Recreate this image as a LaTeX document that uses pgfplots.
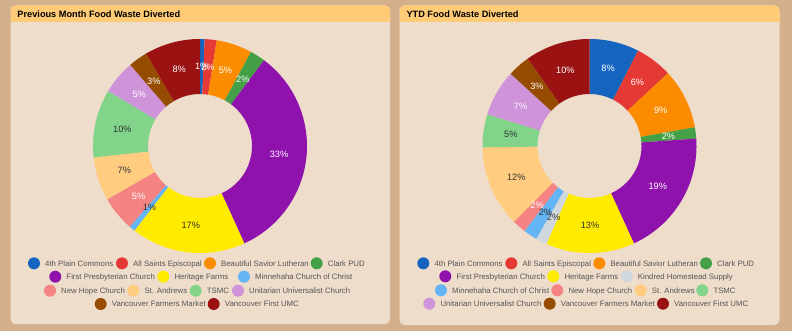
\documentclass[border=0pt]{standalone}
\usepackage{fontspec}
\setmainfont{Liberation Sans}
\usepackage{pgfplots}
\usepackage{pgfplotstable}
\pgfplotsset{compat=1.18}

\definecolor{outerbg}{HTML}{D3AF8C}
\definecolor{panelbg}{HTML}{EEDDCB}
\definecolor{hdr}{HTML}{FFCB77}
\definecolor{cA}{HTML}{1565C0}
\definecolor{cB}{HTML}{E53935}
\definecolor{cC}{HTML}{FB8C00}
\definecolor{cD}{HTML}{43A047}
\definecolor{cE}{HTML}{9012AD}
\definecolor{cF}{HTML}{FFEB00}
\definecolor{cG}{HTML}{D0D8DE}
\definecolor{cH}{HTML}{64B5F6}
\definecolor{cI}{HTML}{F48383}
\definecolor{cJ}{HTML}{FFCC80}
\definecolor{cK}{HTML}{81D48A}
\definecolor{cL}{HTML}{CE93D8}
\definecolor{cM}{HTML}{954B00}
\definecolor{cN}{HTML}{9A1212}
\definecolor{dark}{HTML}{333333}
\definecolor{legtext}{HTML}{555555}

% Previous month shares (%), clockwise from top
\pgfplotstableread{
value color tc
0.7  cA white
1.8  cB white
5.4  cC white
2.3  cD white
33.0 cE white
17.3 cF dark
0.9  cH dark
5.3  cI white
6.6  cJ dark
10.3 cK dark
5.1  cL white
2.9  cM white
8.4  cN white
}\prevmonth

% YTD shares (%), clockwise from top
\pgfplotstableread{
value color tc
7.5  cA white
5.6  cB white
9.1  cC white
1.7  cD white
19.3 cE white
13.4 cF dark
1.7  cG dark
2.1  cH dark
2.1  cI white
12.3 cJ dark
5.0  cK dark
7.0  cL white
3.4  cM white
9.8  cN white
}\ytd

\newcommand{\labelfont}{\fontsize{9.2bp}{10bp}\selectfont}
\newcommand{\legfont}{\fontsize{7.8bp}{9bp}\selectfont}

\newcommand{\donutslices}[1]{%
  \pgfplotstablegetrowsof{#1}\pgfmathtruncatemacro{\nrows}{\pgfplotsretval-1}%
  \def\cum{0}%
  \pgfplotsforeachungrouped \i in {0,...,\nrows}{%
    \pgfplotstablegetelem{\i}{value}\of{#1}\let\val\pgfplotsretval
    \pgfplotstablegetelem{\i}{color}\of{#1}\let\col\pgfplotsretval
    \pgfmathsetmacro{\angA}{90-3.6*\cum}%
    \pgfmathsetmacro{\angB}{90-3.6*(\cum+\val)}%
    \pgfmathsetmacro{\xo}{107*cos(\angA)}%
    \pgfmathsetmacro{\yo}{107*sin(\angA)}%
    \pgfmathsetmacro{\xin}{52*cos(\angB)}%
    \pgfmathsetmacro{\yin}{52*sin(\angB)}%
    \edef\doslice{\noexpand\fill[\col] (axis cs:\xo,\yo) arc[start angle=\angA, end angle=\angB, radius=107bp] -- (axis cs:\xin,\yin) arc[start angle=\angB, end angle=\angA, radius=52bp] -- cycle;}%
    \doslice
    \pgfmathsetmacro{\cum}{\cum+\val}%
  }%
}
\newcommand{\donutlabels}[1]{%
  \pgfplotstablegetrowsof{#1}\pgfmathtruncatemacro{\nrows}{\pgfplotsretval-1}%
  \def\cum{0}%
  \pgfplotsforeachungrouped \i in {0,...,\nrows}{%
    \pgfplotstablegetelem{\i}{value}\of{#1}\let\val\pgfplotsretval
    \pgfplotstablegetelem{\i}{tc}\of{#1}\let\tcol\pgfplotsretval
    \pgfmathsetmacro{\angM}{90-3.6*(\cum+\val/2)}%
    \pgfmathsetmacro{\xm}{79.5*cos(\angM)}%
    \pgfmathsetmacro{\ym}{79.5*sin(\angM)}%
    \pgfmathtruncatemacro{\pct}{round(\val)}%
    \edef\dolabel{\noexpand\node[text=\tcol, font=\noexpand\labelfont, inner sep=0pt] at (axis cs:\xm,\ym) {\pct\noexpand\%};}%
    \dolabel
    \pgfmathsetmacro{\cum}{\cum+\val}%
  }%
}
\newcommand{\legitem}[4]{%
  \fill[#3] (#1,#2) circle[radius=6bp];
  \node[anchor=base west, inner sep=0pt, text=legtext, font=\legfont] at (#1+11,#2-2.8) {#4};
}
\newcommand{\panel}[4]{% x1 x2 ybottom title
  \fill[panelbg, rounded corners=5bp] (#1,#3) rectangle (#2,325.5);
  \fill[hdr, rounded corners=5bp] (#1,309.3) rectangle (#2,325.5);
  \fill[hdr] (#1,309.3) rectangle (#2,316);
  \node[anchor=base west, inner sep=0pt, font=\fontsize{9.2bp}{10bp}\selectfont\bfseries, text=black] at (#1+6.8,314) {#4};
}

\begin{document}
\begin{tikzpicture}[x=1bp,y=1bp]
\fill[outerbg] (0,0) rectangle (792,331);
\panel{10.5}{390}{7}{Previous Month Food Waste Diverted}
\panel{399.5}{779.5}{6}{YTD Food Waste Diverted}

\begin{axis}[at={(200bp,185bp)}, anchor=center, x=1bp, y=1bp,
  xmin=-115, xmax=115, ymin=-115, ymax=115, hide axis, clip=false]
\donutslices{\prevmonth}
\donutlabels{\prevmonth}
\end{axis}

\begin{axis}[at={(589.5bp,185bp)}, anchor=center, x=1bp, y=1bp,
  xmin=-115, xmax=115, ymin=-115, ymax=115, hide axis, clip=false]
\donutslices{\ytd}
\donutlabels{\ytd}
\end{axis}

% left legend
\legitem{34}{67.7}{cA}{4th Plain Commons}
\legitem{122}{67.7}{cB}{All Saints Episcopal}
\legitem{210}{67.7}{cC}{Beautiful Savior Lutheran}
\legitem{316.7}{67.7}{cD}{Clark PUD}
\legitem{55.3}{54.3}{cE}{First Presbyterian Church}
\legitem{163.3}{54.3}{cF}{Heritage Farms}
\legitem{244}{54.3}{cH}{Minnehaha Church of Christ}
\legitem{50}{40.3}{cI}{New Hope Church}
\legitem{133.3}{40.3}{cJ}{St. Andrews}
\legitem{195.7}{40.3}{cK}{TSMC}
\legitem{238}{40.3}{cL}{Unitarian Universalist Church}
\legitem{100.7}{27}{cM}{Vancouver Farmers Market}
\legitem{213.7}{27}{cN}{Vancouver First UMC}

% right legend
\legitem{423.3}{67.7}{cA}{4th Plain Commons}
\legitem{511.3}{67.7}{cB}{All Saints Episcopal}
\legitem{599.3}{67.7}{cC}{Beautiful Savior Lutheran}
\legitem{706}{67.7}{cD}{Clark PUD}
\legitem{445.3}{54.7}{cE}{First Presbyterian Church}
\legitem{553.3}{54.7}{cF}{Heritage Farms}
\legitem{626.7}{54.7}{cG}{Kindred Homestead Supply}
\legitem{441}{40.7}{cH}{Minnehaha Church of Christ}
\legitem{557.3}{40.7}{cI}{New Hope Church}
\legitem{640.7}{40.7}{cJ}{St. Andrews}
\legitem{702.3}{40.7}{cK}{TSMC}
\legitem{429.3}{27.3}{cL}{Unitarian Universalist Church}
\legitem{549.7}{27.3}{cM}{Vancouver Farmers Market}
\legitem{663}{27.3}{cN}{Vancouver First UMC}
\end{tikzpicture}
\end{document}
